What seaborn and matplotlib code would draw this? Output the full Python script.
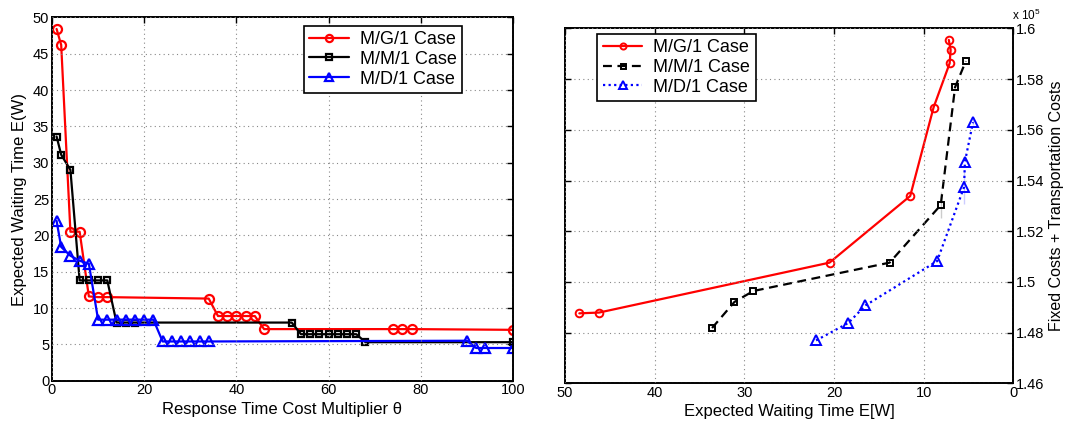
import matplotlib
matplotlib.use("Agg")
import matplotlib.pyplot as plt
import seaborn as sns
import numpy as np
import pandas as pd

# ---------------- data: left panel (theta vs E(W)) ----------------
theta_mg1 = [1, 2, 4, 6, 8, 10, 12, 34, 36, 38, 40, 42, 44, 46, 74, 76, 78, 100]
ew_mg1 = [48.4, 46.2, 20.5, 20.5, 11.6, 11.5, 11.5, 11.3, 8.9, 8.9, 8.9, 8.9, 8.9, 7.1, 7.1, 7.1, 7.1, 7.0]

theta_mm1 = [1, 2, 4, 6, 8, 10, 12, 14, 16, 18, 52, 54, 56, 58, 60, 62, 64, 66, 68, 100]
ew_mm1 = [33.6, 31.1, 29.0, 13.8, 13.8, 13.8, 13.8, 8.0, 8.0, 8.0, 8.0, 6.4, 6.4, 6.4, 6.4, 6.4, 6.4, 6.4, 5.3, 5.3]

theta_md1 = [1, 2, 4, 6, 8, 10, 12, 14, 16, 18, 20, 22, 24, 26, 28, 30, 32, 34, 90, 92, 94, 100]
ew_md1 = [22.0, 18.4, 17.2, 16.5, 16.1, 8.4, 8.4, 8.4, 8.4, 8.4, 8.4, 8.4, 5.4, 5.4, 5.4, 5.4, 5.4, 5.4, 5.5, 4.5, 4.5, 4.5]

# ---------------- data: right panel (E[W] vs cost, x 1e5) ----------------
rw_mg1 = [48.4, 46.2, 20.5, 11.5, 8.9, 7.1, 7.0, 7.0, 7.2]
rc_mg1 = [1.4876, 1.4879, 1.5076, 1.5339, 1.5688, 1.5863, 1.5902, 1.5929, 1.5955]

rw_mm1 = [33.6, 31.1, 29.0, 13.8, 8.1, 8.1, 8.1, 6.5, 5.3]
rc_mm1 = [1.4818, 1.4921, 1.4964, 1.5076, 1.5252, 1.5303, 1.5354, 1.5768, 1.5871]

rw_md1 = [22.0, 18.4, 16.5, 8.5, 5.5, 5.5, 5.4, 4.5, 4.5]
rc_md1 = [1.4769, 1.4838, 1.4907, 1.5082, 1.5306, 1.5441, 1.5474, 1.5618, 1.5642]

labels = ["M/G/1 Case", "M/M/1 Case", "M/D/1 Case"]

sns.set_style("white")
plt.rcParams["font.family"] = ["Liberation Sans", "DejaVu Sans"]
plt.rcParams["mathtext.fontset"] = "custom"
plt.rcParams["mathtext.rm"] = "Liberation Sans"
for k in ["text.color", "axes.labelcolor", "xtick.color", "ytick.color"]:
    plt.rcParams[k] = "black"

fig = plt.figure(figsize=(10.65, 4.28), dpi=100)
axL = fig.add_axes([0.0488, 0.1105, 0.4329, 0.849])
axR = fig.add_axes([0.5305, 0.1045, 0.4210, 0.829])


def style_axes(ax):
    for sp in ax.spines.values():
        sp.set_visible(True)
        sp.set_color("black")
        sp.set_linewidth(1.4)
    ax.tick_params(direction="in", length=4, width=1, top=True, right=True,
                   labelsize=10.5, colors="black", labelcolor="black", pad=2)
    ax.grid(True, linestyle=(0, (1, 3)), color="#888888", linewidth=0.8)
    ax.set_axisbelow(False)


# ---------------- left panel ----------------
dfL = [
    pd.DataFrame({"x": theta_mg1, "y": ew_mg1}),
    pd.DataFrame({"x": theta_mm1, "y": ew_mm1}),
    pd.DataFrame({"x": theta_md1, "y": ew_md1}),
]
colsL = ["#ff0000", "#000000", "#0000ff"]
mkL = ["o", "s", "^"]
msL = [6.5, 5, 7.5]
for d, c, m, ms, lab in zip(dfL, colsL, mkL, msL, labels):
    sns.lineplot(data=d, x="x", y="y", ax=axL, color=c, marker=m, markersize=ms,
                 markerfacecolor="none", markeredgecolor=c, markeredgewidth=1.6,
                 linewidth=1.6, sort=False, label=lab)
axL.set_xlim(0, 100)
axL.set_ylim(0, 50)
axL.set_xticks(np.arange(0, 101, 20))
axL.set_yticks(np.arange(0, 51, 5))
style_axes(axL)
axL.set_xlabel("Response Time Cost Multiplier θ", fontsize=12, labelpad=3, color="black")
axL.set_ylabel("Expected Waiting Time E(W)", fontsize=12, labelpad=4, color="black")
legL = axL.legend(loc="upper right", bbox_to_anchor=(0.889, 0.977), fontsize=13,
                  frameon=True, fancybox=False, edgecolor="black", framealpha=1,
                  handlelength=2.2, borderpad=0.3, labelspacing=0.15, handletextpad=0.6,
                  borderaxespad=0, markerscale=0.8)
legL.get_frame().set_linewidth(1.2)

# ---------------- right panel ----------------
dfR = [
    pd.DataFrame({"x": rw_mg1, "y": rc_mg1}),
    pd.DataFrame({"x": rw_mm1, "y": rc_mm1}),
    pd.DataFrame({"x": rw_md1, "y": rc_md1}),
]
lsR = ["-", (0, (4, 2.5)), (0, (1, 1.5))]
msR = [5.5, 4.5, 6.5]
for d, c, m, ms, ls, lab in zip(dfR, colsL, mkL, msR, lsR, labels):
    sns.lineplot(data=d, x="x", y="y", ax=axR, color=c, marker=m, markersize=ms,
                 markerfacecolor="none", markeredgecolor=c, markeredgewidth=1.4,
                 linewidth=1.6, linestyle=ls, sort=False, label=lab)
axR.set_xlim(50, 0)
axR.set_ylim(1.46, 1.60)
axR.set_xticks(np.arange(50, -1, -10))
axR.set_yticks([1.46, 1.48, 1.50, 1.52, 1.54, 1.56, 1.58, 1.60])
axR.set_yticklabels(["1.46", "1.48", "1.5", "1.52", "1.54", "1.56", "1.58", "1.6"])
style_axes(axR)
axR.yaxis.tick_right()
axR.tick_params(axis="y", left=True, right=True, labelleft=False, labelright=True,
                direction="in")
axR.yaxis.set_label_position("right")
axR.set_xlabel("Expected Waiting Time E[W]", fontsize=12, labelpad=3, color="black")
axR.set_ylabel("Fixed Costs + Transportation Costs", fontsize=11.5, labelpad=3, color="black")
axR.annotate(r"x 10$^5$", xy=(1.0, 1.0), xycoords="axes fraction",
             xytext=(-1, 6), textcoords="offset points", fontsize=8.5,
             ha="left", va="baseline", color="black")
legR = axR.legend(loc="upper left", bbox_to_anchor=(0.072, 0.985), fontsize=13,
                  frameon=True, fancybox=False, edgecolor="black", framealpha=1,
                  handlelength=2.2, borderpad=0.3, labelspacing=0.15, handletextpad=0.6,
                  borderaxespad=0, markerscale=0.8)
legR.get_frame().set_linewidth(1.2)

fig.savefig("out.png", dpi=100)
